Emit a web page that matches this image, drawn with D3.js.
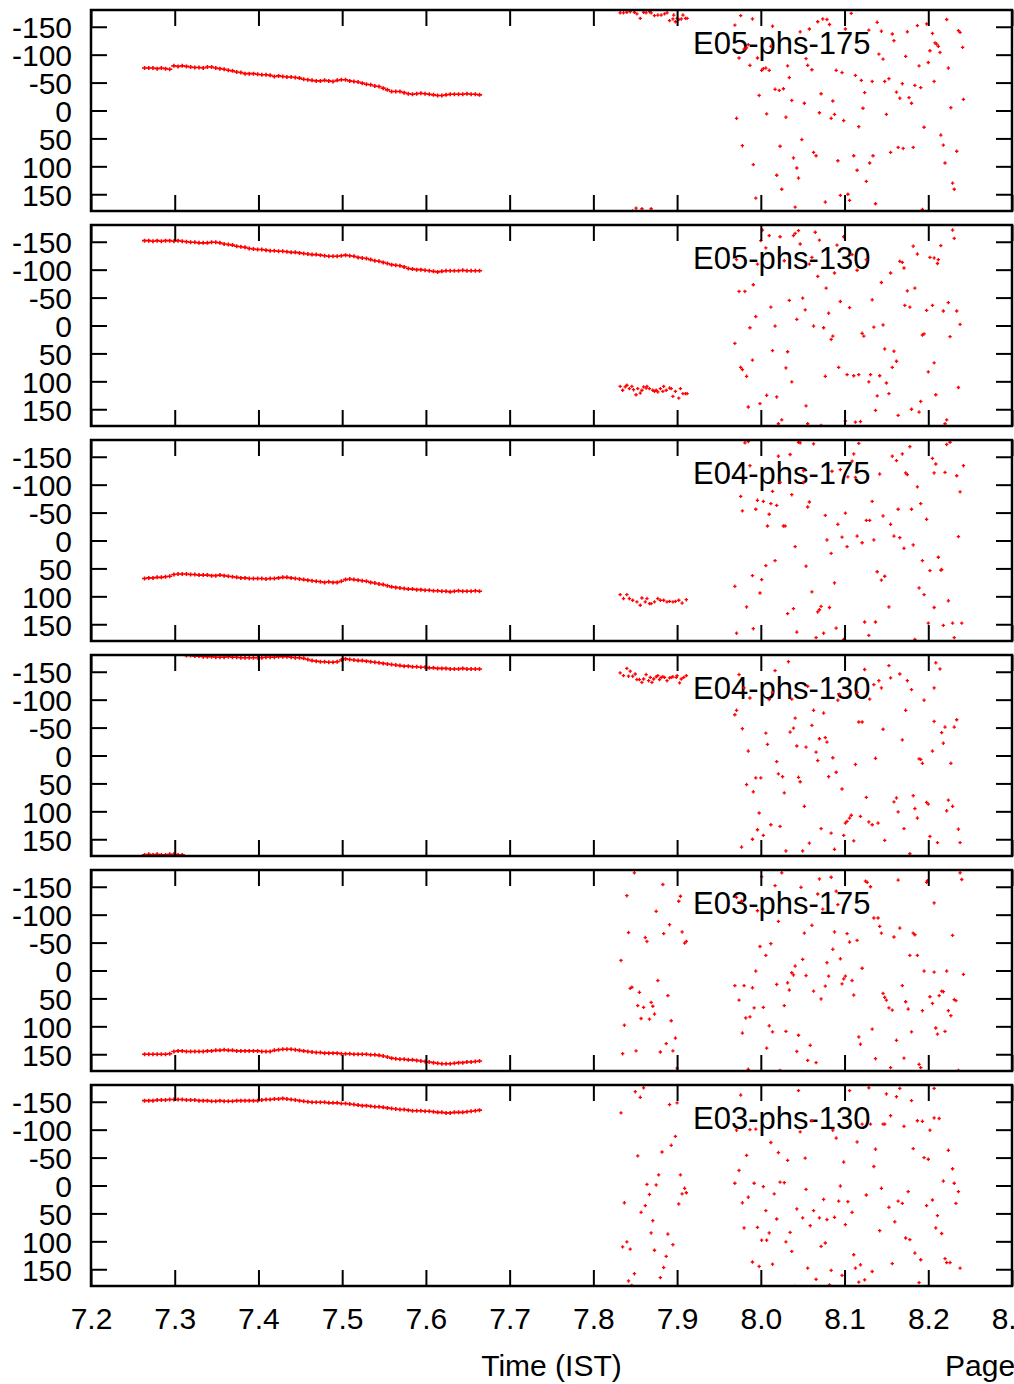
<!DOCTYPE html>
<html>
<head>
<meta charset="utf-8">
<script src="https://cdn.jsdelivr.net/npm/d3@7"></script>
<style>
  body { margin: 0; background: #fff; }
  svg { display: block; }
</style>
</head>
<body>
<div id="chart"></div>
<script>
// --- Data ---
const panelNames = ["E05-phs-175", "E05-phs-130", "E04-phs-175", "E04-phs-130", "E03-phs-175", "E03-phs-130"];
const xTicks = [7.2, 7.3, 7.4, 7.5, 7.6, 7.7, 7.8, 7.9, 8.0, 8.1, 8.2, 8.3];
const yTicks = [-150, -100, -50, 0, 50, 100, 150];

// sample times of the steady early segment (hours, IST)
const lineTimes = [
  7.264, 7.269, 7.274, 7.279, 7.284, 7.289, 7.294, 7.299, 7.304, 7.309,
  7.314, 7.319, 7.324, 7.329, 7.334, 7.339, 7.344, 7.349, 7.354, 7.359,
  7.364, 7.369, 7.374, 7.379, 7.384, 7.389, 7.394, 7.399, 7.404, 7.409,
  7.414, 7.419, 7.424, 7.429, 7.434, 7.439, 7.444, 7.449, 7.454, 7.459,
  7.464, 7.469, 7.474, 7.479, 7.484, 7.489, 7.494, 7.499, 7.504, 7.509,
  7.514, 7.519, 7.524, 7.529, 7.534, 7.539, 7.544, 7.549, 7.554, 7.559,
  7.564, 7.569, 7.574, 7.579, 7.584, 7.589, 7.594, 7.599, 7.604, 7.609,
  7.614, 7.619, 7.624, 7.629, 7.634, 7.639, 7.644, 7.649, 7.654, 7.659,
  7.664
];

const e05p175Line = [
  -76,-76,-76,-75,-76,-75,-74,-80,-79,-80,
  -79,-78,-77,-77,-76,-78,-78,-76,-75,-74,
  -72,-71,-69,-68,-66,-66,-66,-65,-64,-64,
  -63,-61,-62,-61,-60,-60,-59,-58,-56,-55,
  -54,-53,-53,-54,-53,-52,-54,-55,-55,-53,
  -52,-51,-49,-47,-46,-44,-43,-40,-37,-34,
  -34,-34,-32,-30,-29,-30,-31,-30,-29,-28,
  -27,-27,-28,-29,-29,-29,-29,-30,-29,-29,
  -28
];
const e05p130Line = [
  -152,-152,-151,-152,-151,-152,-152,-151,-152,-151,
  -150,-149,-149,-148,-148,-148,-149,-149,-148,-146,
  -145,-144,-142,-141,-140,-138,-137,-136,-136,-135,
  -134,-134,-133,-133,-132,-131,-131,-130,-129,-128,
  -127,-127,-126,-125,-124,-124,-124,-125,-126,-125,
  -124,-122,-121,-120,-118,-116,-115,-113,-111,-109,
  -108,-107,-105,-102,-101,-100,-100,-99,-98,-97,
  -96,-97,-98,-98,-98,-98,-99,-98,-98,-98,
  -98
];
const e04p175Line = [
  68,67,67,66,66,65,64,61,60,60,
  60,61,61,62,62,62,63,63,62,63,
  64,65,66,67,67,68,68,68,68,69,
  68,68,67,66,66,67,68,69,70,71,
  72,73,74,75,74,75,75,73,70,69,
  70,71,72,73,75,76,78,79,81,83,
  84,85,86,87,87,88,88,89,89,90,
  90,91,91,92,91,90,91,91,91,90,
  91
];
const e04p130Line = [
  178,177,178,177,178,178,177,177,178,178,
  -179,-179,-178,-178,-177,-177,-177,-176,-176,-176,
  -177,-176,-176,-175,-175,-175,-175,-175,-175,-176,
  -176,-176,-177,-177,-177,-176,-175,-175,-174,-172,
  -170,-169,-168,-168,-167,-167,-168,-171,-173,-172,
  -171,-170,-170,-169,-168,-167,-166,-165,-164,-163,
  -162,-161,-160,-160,-159,-159,-158,-158,-157,-157,
  -156,-156,-156,-155,-155,-155,-156,-155,-155,-155,
  -155
];
const e03p175Line = [
  150,150,150,150,150,150,149,145,144,144,
  145,145,145,145,145,144,144,143,143,142,
  143,143,144,144,144,144,144,144,145,145,
  145,143,142,141,141,141,142,143,144,145,
  146,147,147,148,148,148,148,149,149,149,
  150,150,150,150,151,151,152,153,155,157,
  158,159,159,160,160,161,162,163,164,165,
  166,167,167,167,166,165,165,164,164,163,
  162
];
const e03p130Line = [
  -152,-152,-152,-153,-153,-153,-154,-154,-154,-154,
  -153,-153,-153,-152,-152,-152,-151,-151,-152,-151,
  -151,-151,-152,-152,-152,-152,-152,-152,-153,-154,
  -154,-155,-155,-156,-155,-154,-153,-152,-151,-150,
  -149,-149,-149,-149,-148,-148,-148,-147,-147,-146,
  -145,-144,-143,-143,-142,-141,-141,-140,-139,-138,
  -137,-136,-136,-135,-134,-134,-134,-133,-133,-132,
  -131,-131,-130,-130,-131,-131,-131,-132,-133,-134,
  -135
];

// later, noisy samples: [time, phase]
const e05p175Pts = [
  [7.832,-175],[7.836,-175],[7.840,-176],[7.844,-177],[7.849,-176],[7.852,-173],[7.856,-165],[7.860,-176],
  [7.863,-175],[7.867,-177],[7.869,-175],[7.873,-170],[7.877,-171],[7.881,-171],[7.885,-173],[7.888,-175],
  [7.891,-161],[7.895,-164],[7.896,-171],[7.898,-159],[7.900,-165],[7.902,-163],[7.905,-164],[7.907,-171],
  [7.910,-165],[7.912,-165],[7.851,175],[7.858,176],[7.869,176],[7.847,180],
  [7.976,-170],[7.990,-164],[7.969,-153],[8.014,-151],[8.047,-141],[8.058,-146],[8.068,-159],[8.074,-164],
  [8.079,-163],[8.082,-154],[8.108,-174],[8.101,-146],[8.129,-144],[8.139,-158],[8.144,-142],[8.157,-137],
  [8.159,-125],[8.175,-141],[8.187,-152],[8.198,-155],[8.205,-138],[8.222,-163],[8.236,-143],[8.238,-140],
  [8.208,-121],[8.210,-119],[8.212,-115],[8.214,-104],[8.202,-107],[8.241,-113],[7.985,-118],[7.983,-112],
  [7.980,-110],[8.012,-115],[7.974,-94],[7.996,-94],[7.987,-81],[8.001,-72],[8.003,-75],[8.006,-76],
  [8.010,-72],[8.032,-80],[8.034,-59],[8.054,-93],[8.056,-81],[8.061,-73],[8.090,-72],[8.097,-68],
  [8.113,-63],[8.120,-54],[8.133,-52],[8.141,-101],[8.146,-92],[8.148,-52],[8.153,-57],[8.173,-97],
  [8.189,-80],[8.200,-86],[8.207,-52],[8.224,-76],[8.169,-48],[8.184,-45],[8.191,-41],[8.162,-33],
  [8.166,-22],[8.177,-23],[8.180,-13],[8.017,-38],[8.022,-36],[8.027,-39],[7.998,-27],[8.037,-18],
  [8.052,-13],[8.072,-30],[8.086,-17],[8.124,-32],[8.122,-4],[8.070,4],[8.088,7],[8.084,14],
  [8.099,18],[8.117,29],[8.007,6],[8.030,12],[7.971,14],[8.150,7],[8.195,30],[8.227,-5],
  [8.242,-20],[8.215,44],[8.218,62],[8.234,73],[7.978,63],[8.023,64],[8.049,52],[8.063,75],
  [8.066,81],[8.039,85],[7.991,97],[8.043,103],[8.045,121],[8.019,116],[8.025,141],[7.994,157],
  [8.041,173],[8.077,164],[8.092,90],[8.095,152],[8.104,150],[8.106,161],[8.111,81],[8.115,107],
  [8.126,127],[8.130,94],[8.134,81],[8.137,167],[8.155,75],[8.164,66],[8.170,68],[8.182,66],
  [8.220,94],[8.229,130],[8.231,141],[8.193,177]
];
const e05p130Pts = [
  [7.832,109],[7.835,116],[7.838,110],[7.840,107],[7.843,113],[7.846,109],[7.848,115],[7.851,124],
  [7.853,113],[7.856,121],[7.858,116],[7.860,110],[7.863,112],[7.864,109],[7.867,113],[7.871,116],
  [7.873,118],[7.875,116],[7.877,119],[7.880,113],[7.883,118],[7.884,109],[7.887,116],[7.891,112],
  [7.893,113],[7.895,127],[7.898,118],[7.902,130],[7.904,113],[7.907,122],[7.910,122],[7.912,122],
  [8.002,-171],[8.010,-161],[8.023,-159],[8.039,-161],[8.041,-165],[8.045,-170],[8.065,-167],[8.070,-153],
  [8.047,-146],[8.028,-116],[8.006,-139],[8.000,-152],[7.996,-110],[7.971,-118],[7.974,-61],[7.981,-61],
  [7.991,-73],[8.012,-33],[7.994,-16],[7.987,4],[8.017,1],[8.034,-45],[8.050,-49],[8.053,-28],
  [8.043,-11],[8.068,-88],[8.078,-67],[8.061,-122],[8.058,-110],[8.088,-94],[8.091,-144],[8.099,-159],
  [8.109,-127],[8.115,-99],[8.126,-118],[8.095,-43],[8.081,-22],[8.106,-32],[8.063,1],[8.075,4],
  [8.086,19],[8.084,25],[8.121,14],[8.123,19],[8.133,-46],[8.135,3],[8.144,-77],[8.146,-1],
  [8.155,-94],[8.166,-115],[8.169,-113],[8.171,-103],[8.175,-62],[8.184,-67],[8.182,-142],[8.187,-128],
  [8.202,-122],[8.207,-121],[8.212,-118],[8.211,-111],[8.215,-143],[8.229,-171],[8.231,-156],[8.172,-36],
  [8.178,-33],[8.198,-27],[8.205,-36],[8.218,-26],[8.224,-41],[8.234,-26],[8.238,-2],[8.193,17],
  [8.195,15],[8.226,20],[7.969,32],[7.976,75],[7.978,79],[7.983,91],[7.990,62],[8.014,45],
  [8.032,47],[8.030,76],[8.037,101],[8.093,75],[8.077,91],[8.103,88],[8.111,90],[8.117,88],
  [8.129,101],[8.131,88],[8.142,90],[8.148,42],[8.159,46],[8.162,64],[8.157,75],[8.150,103],
  [8.139,126],[8.153,122],[8.207,67],[8.200,83],[8.236,111],[7.985,146],[7.999,140],[8.007,125],
  [8.019,128],[8.054,144],[8.021,176],[8.025,169],[8.056,176],[8.072,179],[8.101,171],[8.113,173],
  [8.119,172],[8.137,152],[8.164,161],[8.180,150],[8.189,155],[8.191,136],[8.209,124],[8.220,176],
  [8.222,169]
];
const e04p175Pts = [
  [7.832,97],[7.836,104],[7.840,97],[7.843,104],[7.847,107],[7.852,110],[7.856,116],[7.858,103],
  [7.862,110],[7.864,104],[7.867,113],[7.869,113],[7.873,110],[7.877,104],[7.880,107],[7.884,107],
  [7.888,110],[7.891,109],[7.895,110],[7.898,109],[7.902,107],[7.906,112],[7.911,106],
  [7.981,-175],[7.985,-177],[8.045,-176],[8.047,-175],[8.063,-173],[8.117,-174],[8.222,-172],[8.226,-176],
  [8.021,-151],[8.035,-154],[7.987,-134],[8.023,-104],[8.051,-125],[8.051,-104],[8.037,-82],[8.014,-88],
  [7.976,-79],[7.978,-53],[7.994,-56],[7.996,-72],[8.003,-70],[8.012,-66],[8.019,-63],[8.010,-47],
  [8.008,-26],[8.027,-26],[8.029,-26],[8.056,-60],[8.058,-69],[8.077,-45],[8.085,-124],[8.095,-127],
  [8.104,-114],[8.113,-113],[8.109,-142],[8.111,-155],[8.092,-29],[8.101,-49],[8.126,-36],[8.130,-36],
  [8.133,-70],[8.146,-44],[8.155,-29],[8.142,-119],[8.157,-151],[8.162,-143],[8.169,-155],[8.178,-168],
  [8.173,-121],[8.175,-118],[8.187,-96],[8.191,-66],[8.180,-56],[8.164,-56],[8.198,-38],[8.205,-147],
  [8.209,-137],[8.207,-121],[8.220,-122],[8.234,-116],[8.238,-87],[8.242,-134],[8.236,-7],[8.159,-8],
  [8.166,-5],[8.171,14],[8.182,8],[8.135,-1],[8.121,4],[8.115,-8],[8.097,-6],[8.103,11],
  [8.079,-1],[8.084,23],[8.041,11],[8.054,46],[8.017,36],[8.006,45],[8.001,70],[7.990,63],
  [7.999,94],[7.969,82],[7.983,119],[7.991,158],[7.971,166],[8.032,131],[8.039,122],[8.043,164],
  [8.061,92],[8.068,128],[8.070,124],[8.072,118],[8.082,120],[8.088,76],[8.090,157],[8.075,166],
  [8.066,174],[8.099,177],[8.124,146],[8.129,170],[8.137,146],[8.139,56],[8.144,71],[8.148,64],
  [8.153,119],[8.189,85],[8.195,97],[8.193,36],[8.202,54],[8.212,30],[8.215,53],[8.216,52],
  [8.224,108],[8.207,120],[8.200,148],[8.218,152],[8.229,148],[8.240,148],[8.231,174],[8.184,177]
];
const e04p130Pts = [
  [7.832,-148],[7.836,-143],[7.840,-156],[7.842,-142],[7.844,-151],[7.847,-142],[7.850,-146],[7.852,-136],
  [7.855,-136],[7.858,-131],[7.860,-137],[7.863,-145],[7.866,-134],[7.868,-140],[7.870,-131],[7.872,-137],
  [7.875,-141],[7.877,-143],[7.879,-136],[7.881,-140],[7.883,-141],[7.885,-140],[7.888,-134],[7.891,-139],
  [7.893,-140],[7.895,-141],[7.899,-140],[7.900,-143],[7.903,-130],[7.905,-137],[7.908,-140],[7.911,-143],
  [8.033,-168],[8.017,-152],[7.974,-145],[7.980,-121],[7.987,-103],[8.014,-113],[8.010,-100],[8.037,-101],
  [8.056,-124],[8.094,-110],[8.092,-99],[8.115,-113],[8.124,-154],[8.135,-127],[8.141,-134],[8.144,-121],
  [8.153,-161],[8.155,-139],[8.166,-146],[8.175,-134],[8.180,-118],[8.195,-99],[8.209,-166],[8.214,-155],
  [8.207,-121],[8.130,-101],[7.969,-73],[7.971,-81],[7.978,-48],[8.006,-40],[8.008,-20],[7.985,-8],
  [8.035,-42],[8.039,-49],[8.041,-67],[8.043,-17],[8.054,-15],[8.061,-54],[8.063,-81],[8.075,-76],
  [8.070,-30],[8.077,-32],[8.079,-24],[8.066,-6],[8.068,9],[8.086,4],[8.117,-60],[8.121,-60],
  [8.146,-47],[8.169,-28],[8.173,-81],[8.207,-61],[8.220,-51],[8.216,-41],[8.234,-64],[8.231,-51],
  [8.218,-22],[8.205,-8],[8.189,6],[8.193,14],[8.191,7],[8.227,14],[8.137,5],[8.113,16],
  [8.090,30],[8.081,38],[8.097,60],[8.045,39],[8.047,47],[8.019,11],[8.021,33],[8.026,38],
  [7.994,40],[8.000,40],[7.983,52],[7.991,65],[8.028,67],[8.052,91],[7.998,103],[7.996,133],
  [8.003,143],[8.012,124],[8.023,127],[7.990,150],[7.977,164],[8.030,171],[8.050,171],[8.058,157],
  [8.072,131],[8.084,139],[8.099,143],[8.111,153],[8.088,168],[8.101,121],[8.103,118],[8.106,112],
  [8.108,107],[8.119,109],[8.126,75],[8.129,119],[8.133,124],[8.140,121],[8.148,152],[8.159,83],
  [8.162,76],[8.164,101],[8.171,131],[8.182,72],[8.184,95],[8.187,112],[8.198,84],[8.200,87],
  [8.202,145],[8.211,156],[8.224,80],[8.229,91],[8.222,99],[8.236,132],[8.238,156],[8.178,176]
];
const e03p175Pts = [
  [7.849,-175],[7.883,-154],[7.840,-134],[7.904,-133],[7.902,-124],[7.875,-106],[7.842,-68],[7.862,-59],
  [7.864,-52],[7.884,-66],[7.891,-82],[7.906,-69],[7.909,-49],[7.911,-52],[7.833,-18],[7.877,18],
  [7.844,32],[7.846,30],[7.855,39],[7.889,45],[7.853,63],[7.860,66],[7.869,57],[7.871,64],
  [7.873,78],[7.857,86],[7.867,87],[7.893,90],[7.837,98],[7.898,121],[7.887,131],[7.835,149],
  [7.851,144],[7.880,146],[7.895,144],[7.900,175],
  [8.001,-168],[8.017,-152],[8.025,-175],[8.048,-149],[8.070,-164],[8.084,-167],[8.090,-142],[8.068,-137],
  [8.074,-110],[8.092,-118],[8.125,-160],[8.127,-158],[8.131,-150],[8.164,-162],[8.199,-161],[8.198,-158],
  [8.238,-175],[8.240,-163],[8.207,-121],[7.971,-131],[7.977,-124],[7.996,-107],[8.021,-88],[8.052,-67],
  [8.061,-81],[8.088,-69],[8.103,-66],[8.106,-51],[8.115,-54],[8.135,-94],[8.140,-94],[8.142,-79],
  [8.144,-67],[8.159,-60],[8.166,-76],[8.182,-67],[8.184,-64],[8.229,-63],[7.999,-43],[8.012,-48],
  [8.006,-27],[7.994,1],[7.969,27],[7.980,27],[7.990,31],[7.974,53],[7.982,85],[7.987,83],
  [7.992,67],[8.003,66],[8.019,25],[8.028,63],[8.032,22],[8.034,35],[8.037,4],[8.039,8],
  [8.041,-8],[8.050,-20],[8.054,9],[8.063,37],[8.072,51],[8.077,28],[8.079,-14],[8.081,10],
  [8.086,-38],[8.095,-21],[8.097,24],[8.099,15],[8.101,10],[8.109,18],[8.111,44],[8.121,-4],
  [8.146,41],[8.148,48],[8.150,53],[8.153,67],[8.157,71],[8.169,27],[8.173,56],[8.176,69],
  [8.178,-27],[8.187,-27],[8.193,72],[8.195,1],[8.207,3],[8.202,47],[8.205,59],[8.213,45],
  [8.216,37],[8.218,38],[8.222,1],[8.231,52],[8.233,54],[8.224,72],[8.227,81],[8.242,7],
  [7.978,112],[8.010,99],[8.014,110],[8.007,139],[8.030,109],[8.045,116],[8.043,145],[8.059,134],
  [8.056,161],[8.066,165],[8.117,119],[8.119,132],[8.133,105],[8.137,158],[8.162,125],[8.180,110],
  [8.171,157],[8.155,174],[8.189,168],[8.191,174],[8.209,103],[8.211,114],[8.220,109],[8.236,179],
  [7.985,177],[8.023,179]
];
const e03p130Pts = [
  [7.850,-168],[7.856,-158],[7.860,-175],[7.833,-130],[7.891,-145],[7.900,-148],[7.898,-88],[7.893,-72],
  [7.882,-60],[7.853,-53],[7.878,-19],[7.904,-19],[7.864,-2],[7.875,-1],[7.909,5],[7.906,15],
  [7.911,13],[7.867,16],[7.837,31],[7.862,36],[7.902,33],[7.857,48],[7.871,63],[7.869,85],
  [7.889,87],[7.835,110],[7.840,101],[7.844,114],[7.873,116],[7.895,106],[7.887,127],[7.884,147],
  [7.849,158],[7.842,171],[7.880,165],[7.846,179],
  [7.976,-162],[8.045,-170],[8.106,-170],[8.129,-175],[8.150,-164],[8.162,-159],[8.166,-174],[8.180,-152],
  [8.207,-174],[7.971,-99],[7.987,-100],[7.994,-101],[8.012,-77],[8.021,-59],[8.032,-45],[8.047,-96],
  [8.053,-49],[8.061,-116],[8.086,-99],[8.090,-85],[8.099,-42],[8.115,-78],[8.121,-110],[8.131,-110],
  [8.146,-110],[8.148,-110],[8.155,-125],[8.171,-106],[8.187,-116],[8.193,-115],[8.207,-121],[8.213,-120],
  [8.202,-99],[8.137,-65],[8.135,-34],[8.144,5],[8.182,-66],[8.195,-50],[8.200,-47],[8.224,-63],
  [8.229,-30],[8.218,-8],[8.231,-4],[8.236,11],[8.233,32],[8.205,26],[8.198,36],[7.983,-54],
  [7.974,-27],[7.969,-4],[7.992,-4],[8.003,2],[7.985,21],[7.978,31],[8.016,15],[8.023,-6],
  [8.028,-5],[8.054,7],[8.075,25],[8.093,28],[8.095,1],[8.104,29],[8.109,48],[8.126,17],
  [8.153,39],[8.164,28],[8.169,32],[8.176,11],[8.043,42],[8.050,58],[8.059,72],[8.063,45],
  [8.070,58],[8.079,61],[8.088,57],[8.101,70],[8.019,60],[8.006,45],[7.980,76],[7.996,75],
  [8.010,85],[8.001,98],[8.007,98],[8.030,101],[8.035,84],[8.037,118],[8.072,109],[8.077,103],
  [8.142,81],[8.160,65],[8.173,94],[8.178,97],[8.211,54],[8.209,76],[8.216,86],[7.990,137],
  [7.998,145],[8.014,141],[8.056,148],[8.066,168],[8.082,178],[8.084,152],[8.097,161],[8.111,124],
  [8.113,148],[8.119,142],[8.124,169],[8.117,173],[8.133,154],[8.157,140],[8.184,121],[8.191,133],
  [8.189,174],[8.220,131],[8.222,138],[8.226,138],[8.238,148],[8.041,181]
];

const panelLines = [e05p175Line, e05p130Line, e04p175Line, e04p130Line, e03p175Line, e03p130Line];
const panelPoints = [e05p175Pts, e05p130Pts, e04p175Pts, e04p130Pts, e03p175Pts, e03p130Pts];

// --- Layout ---
const W = 1014, H = 1384;
const plotL = 91, plotR = 1012;
const panelTop0 = 10, panelStep = 215, panelH = 201;
const tickLen = 16;
const font = "'Liberation Sans', Arial, Helvetica, sans-serif";

const svg = d3.select("#chart").append("svg")
  .attr("width", W)
  .attr("height", H)
  .style("font-family", font);

const x = d3.scaleLinear().domain([7.2, 8.3]).range([plotL, plotR]);

const defs = svg.append("defs");
const lineCross = "M-2.6,0H2.6M0,-2V2";   // dense samples overlap into a band
const ptCross = "M-1.7,0H1.7M0,-1.7V1.7";

panelNames.forEach((name, i) => {
  const top = panelTop0 + i * panelStep;
  const last = i === panelNames.length - 1;
  const y = d3.scaleLinear().domain([-180, 180]).range([top, top + panelH]);

  defs.append("clipPath").attr("id", `clip${i}`)
    .append("rect")
    .attr("x", plotL).attr("y", top)
    .attr("width", plotR - plotL).attr("height", panelH);

  const g = svg.append("g");

  // panel title
  g.append("text")
    .attr("x", 693)
    .attr("y", top + 44)
    .style("font-size", "31px")
    .style("fill", "#000")
    .text(name);

  // data marks
  const marks = g.append("g").attr("clip-path", `url(#clip${i})`)
    .attr("stroke", "#ff0000")
    .attr("fill", "none");

  const lineVals = panelLines[i];
  marks.selectAll("path.ln")
    .data(lineTimes.map((t, k) => [t, lineVals[k]]))
    .join("path")
    .attr("class", "ln")
    .attr("d", lineCross)
    .attr("stroke-width", 1.6)
    .attr("transform", d => `translate(${x(d[0])},${y(d[1])})`);

  marks.selectAll("path.pt")
    .data(panelPoints[i])
    .join("path")
    .attr("class", "pt")
    .attr("d", ptCross)
    .attr("stroke-width", 1.3)
    .attr("transform", d => `translate(${x(d[0])},${y(d[1])})`);

  // axes, ticks pointing inward
  const axL = g.append("g").attr("transform", `translate(${plotL},0)`)
    .call(d3.axisLeft(y).tickValues(yTicks).tickSize(-tickLen).tickPadding(19).tickFormat(d => String(d)));
  const axR = g.append("g").attr("transform", `translate(${plotR},0)`)
    .call(d3.axisRight(y).tickValues(yTicks).tickSize(-tickLen).tickFormat(""));
  const axT = g.append("g").attr("transform", `translate(0,${top})`)
    .call(d3.axisTop(x).tickValues(xTicks).tickSize(-tickLen).tickFormat(""));
  const axB = g.append("g").attr("transform", `translate(0,${top + panelH})`)
    .call(d3.axisBottom(x).tickValues(xTicks).tickSize(-tickLen)
      .tickPadding(last ? 22 : 0)
      .tickFormat(last ? d => d.toFixed(1) : ""));

  [axL, axR, axT, axB].forEach(ax => {
    ax.select(".domain").remove();
    ax.selectAll(".tick line").attr("stroke", "#000").attr("stroke-width", 2);
    ax.selectAll(".tick text")
      .style("font-family", font)
      .style("font-size", "30px")
      .attr("fill", "#000");
  });
  axL.selectAll(".tick text").attr("dy", "0.36em");

  // border
  g.append("rect")
    .attr("x", plotL).attr("y", top)
    .attr("width", plotR - plotL).attr("height", panelH)
    .attr("fill", "none")
    .attr("stroke", "#000")
    .attr("stroke-width", 2.5);
});

// axis title and page label
svg.append("text")
  .attr("x", (plotL + plotR) / 2)
  .attr("y", 1376)
  .attr("text-anchor", "middle")
  .style("font-size", "30px")
  .text("Time (IST)");

svg.append("text")
  .attr("x", 945)
  .attr("y", 1376)
  .style("font-size", "30px")
  .text("Page 1");
</script>
</body>
</html>
